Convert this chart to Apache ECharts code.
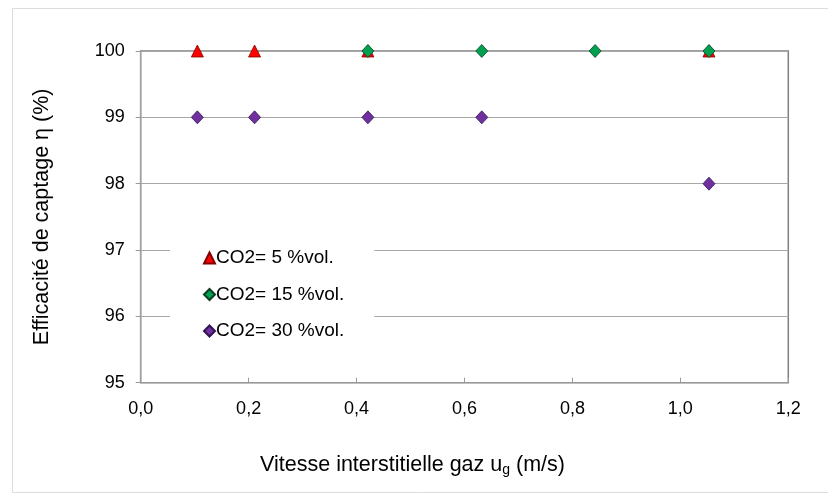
<!DOCTYPE html>
<html>
<head>
<meta charset="utf-8">
<script src="https://cdn.jsdelivr.net/npm/echarts@6/dist/echarts.min.js"></script>
<style>
  html, body { margin: 0; padding: 0; background: #ffffff; }
  #chart { width: 828px; height: 499px; }
</style>
</head>
<body>
<div id="chart"></div>
<script>
// Gas interstitial velocity (m/s) and capture efficiency (%) for each CO2 content
const seriesNames = ['CO2= 5 %vol.', 'CO2= 15 %vol.', 'CO2= 30 %vol.'];
const ugCO2_5 = [0.105, 0.211, 0.421, 1.053];
const etaCO2_5 = [100, 100, 100, 100];
const ugCO2_15 = [0.421, 0.632, 0.842, 1.053];
const etaCO2_15 = [100, 100, 100, 100];
const ugCO2_30 = [0.105, 0.211, 0.421, 0.632, 1.053];
const etaCO2_30 = [99, 99, 99, 99, 98];

const xTicks = { min: 0, max: 1.2, step: 0.2 };
const yTicks = { min: 95, max: 100, step: 1 };

function pairs(xs, ys) { return xs.map((x, i) => [x, ys[i]]); }

const FONT = '"Liberation Sans", Arial, sans-serif';
const chart = echarts.init(document.getElementById('chart'));

chart.setOption({
  animation: false,
  backgroundColor: '#ffffff',
  graphic: [{
    type: 'rect',
    shape: { x: 12.5, y: 8.5, width: 830, height: 484 },
    style: { fill: 'none', stroke: '#dcdcdc', lineWidth: 1 },
    silent: true, z: -1
  }],
  grid: {
    left: 140.7, right: 39.7, top: 51, bottom: 116.3,
    show: true, borderColor: '#808080', borderWidth: 1.5, backgroundColor: 'transparent'
  },
  legend: {
    orient: 'vertical',
    left: 170, top: 233,
    padding: [15, 30, 12, 33],
    backgroundColor: '#ffffff',
    itemWidth: 11, itemHeight: 11, itemGap: 16.5,
    data: [
      { name: seriesNames[0], icon: 'triangle' },
      { name: seriesNames[1], icon: 'diamond' },
      { name: seriesNames[2], icon: 'diamond' }
    ],
    textStyle: { fontFamily: FONT, fontSize: 19, lineHeight: 20, color: '#000000', padding: [0, 0, 0, -4] }
  },
  xAxis: {
    type: 'value',
    min: xTicks.min, max: xTicks.max, interval: xTicks.step,
    axisLine: { show: true, onZero: false, lineStyle: { color: '#999999', width: 1.2 } },
    axisTick: { show: true, inside: true, length: 5, lineStyle: { color: '#999999' } },
    splitLine: { show: false },
    axisLabel: {
      margin: 17, fontFamily: FONT, fontSize: 18, color: '#000000',
      formatter: v => v.toFixed(1).replace('.', ',')
    },
    name: 'Vitesse interstitielle gaz u{sub|g} (m/s)',
    nameLocation: 'middle', nameGap: 71,
    nameTextStyle: {
      fontFamily: FONT, fontSize: 21.5, color: '#000000',
      padding: [0, 104, 0, 0],
      rich: { sub: { fontFamily: FONT, fontSize: 14, color: '#000000', padding: [9, 0, 0, 0] } }
    }
  },
  yAxis: {
    type: 'value',
    min: yTicks.min, max: yTicks.max, interval: yTicks.step,
    axisLine: { show: true, lineStyle: { color: '#a0a0a0', width: 1.2 } },
    axisTick: { show: true, inside: false, length: 5, lineStyle: { color: '#999999' } },
    splitLine: { show: true, lineStyle: { color: '#a8a8a8', width: 1.2 } },
    axisLabel: { margin: 16, fontFamily: FONT, fontSize: 18, color: '#000000' },
    name: 'Efficacité de captage η (%)',
    nameLocation: 'middle', nameGap: 88, nameRotate: 90,
    nameTextStyle: { fontFamily: FONT, fontSize: 21.5, color: '#000000' }
  },
  series: [
    {
      name: seriesNames[0], type: 'scatter', symbol: 'triangle', symbolSize: [12, 12],
      data: pairs(ugCO2_5, etaCO2_5), z: 3,
      itemStyle: { color: '#ff0000', borderColor: '#800000', borderWidth: 0.8, opacity: 1 }
    },
    {
      name: seriesNames[1], type: 'scatter', symbol: 'diamond', symbolSize: [12, 13],
      data: pairs(ugCO2_15, etaCO2_15), z: 4,
      itemStyle: { color: '#00a050', borderColor: '#0a4020', borderWidth: 0.8, opacity: 1 }
    },
    {
      name: seriesNames[2], type: 'scatter', symbol: 'diamond', symbolSize: [12, 13],
      data: pairs(ugCO2_30, etaCO2_30), z: 3,
      itemStyle: { color: '#7030a0', borderColor: '#321450', borderWidth: 0.8, opacity: 1 }
    }
  ]
});
</script>
</body>
</html>
